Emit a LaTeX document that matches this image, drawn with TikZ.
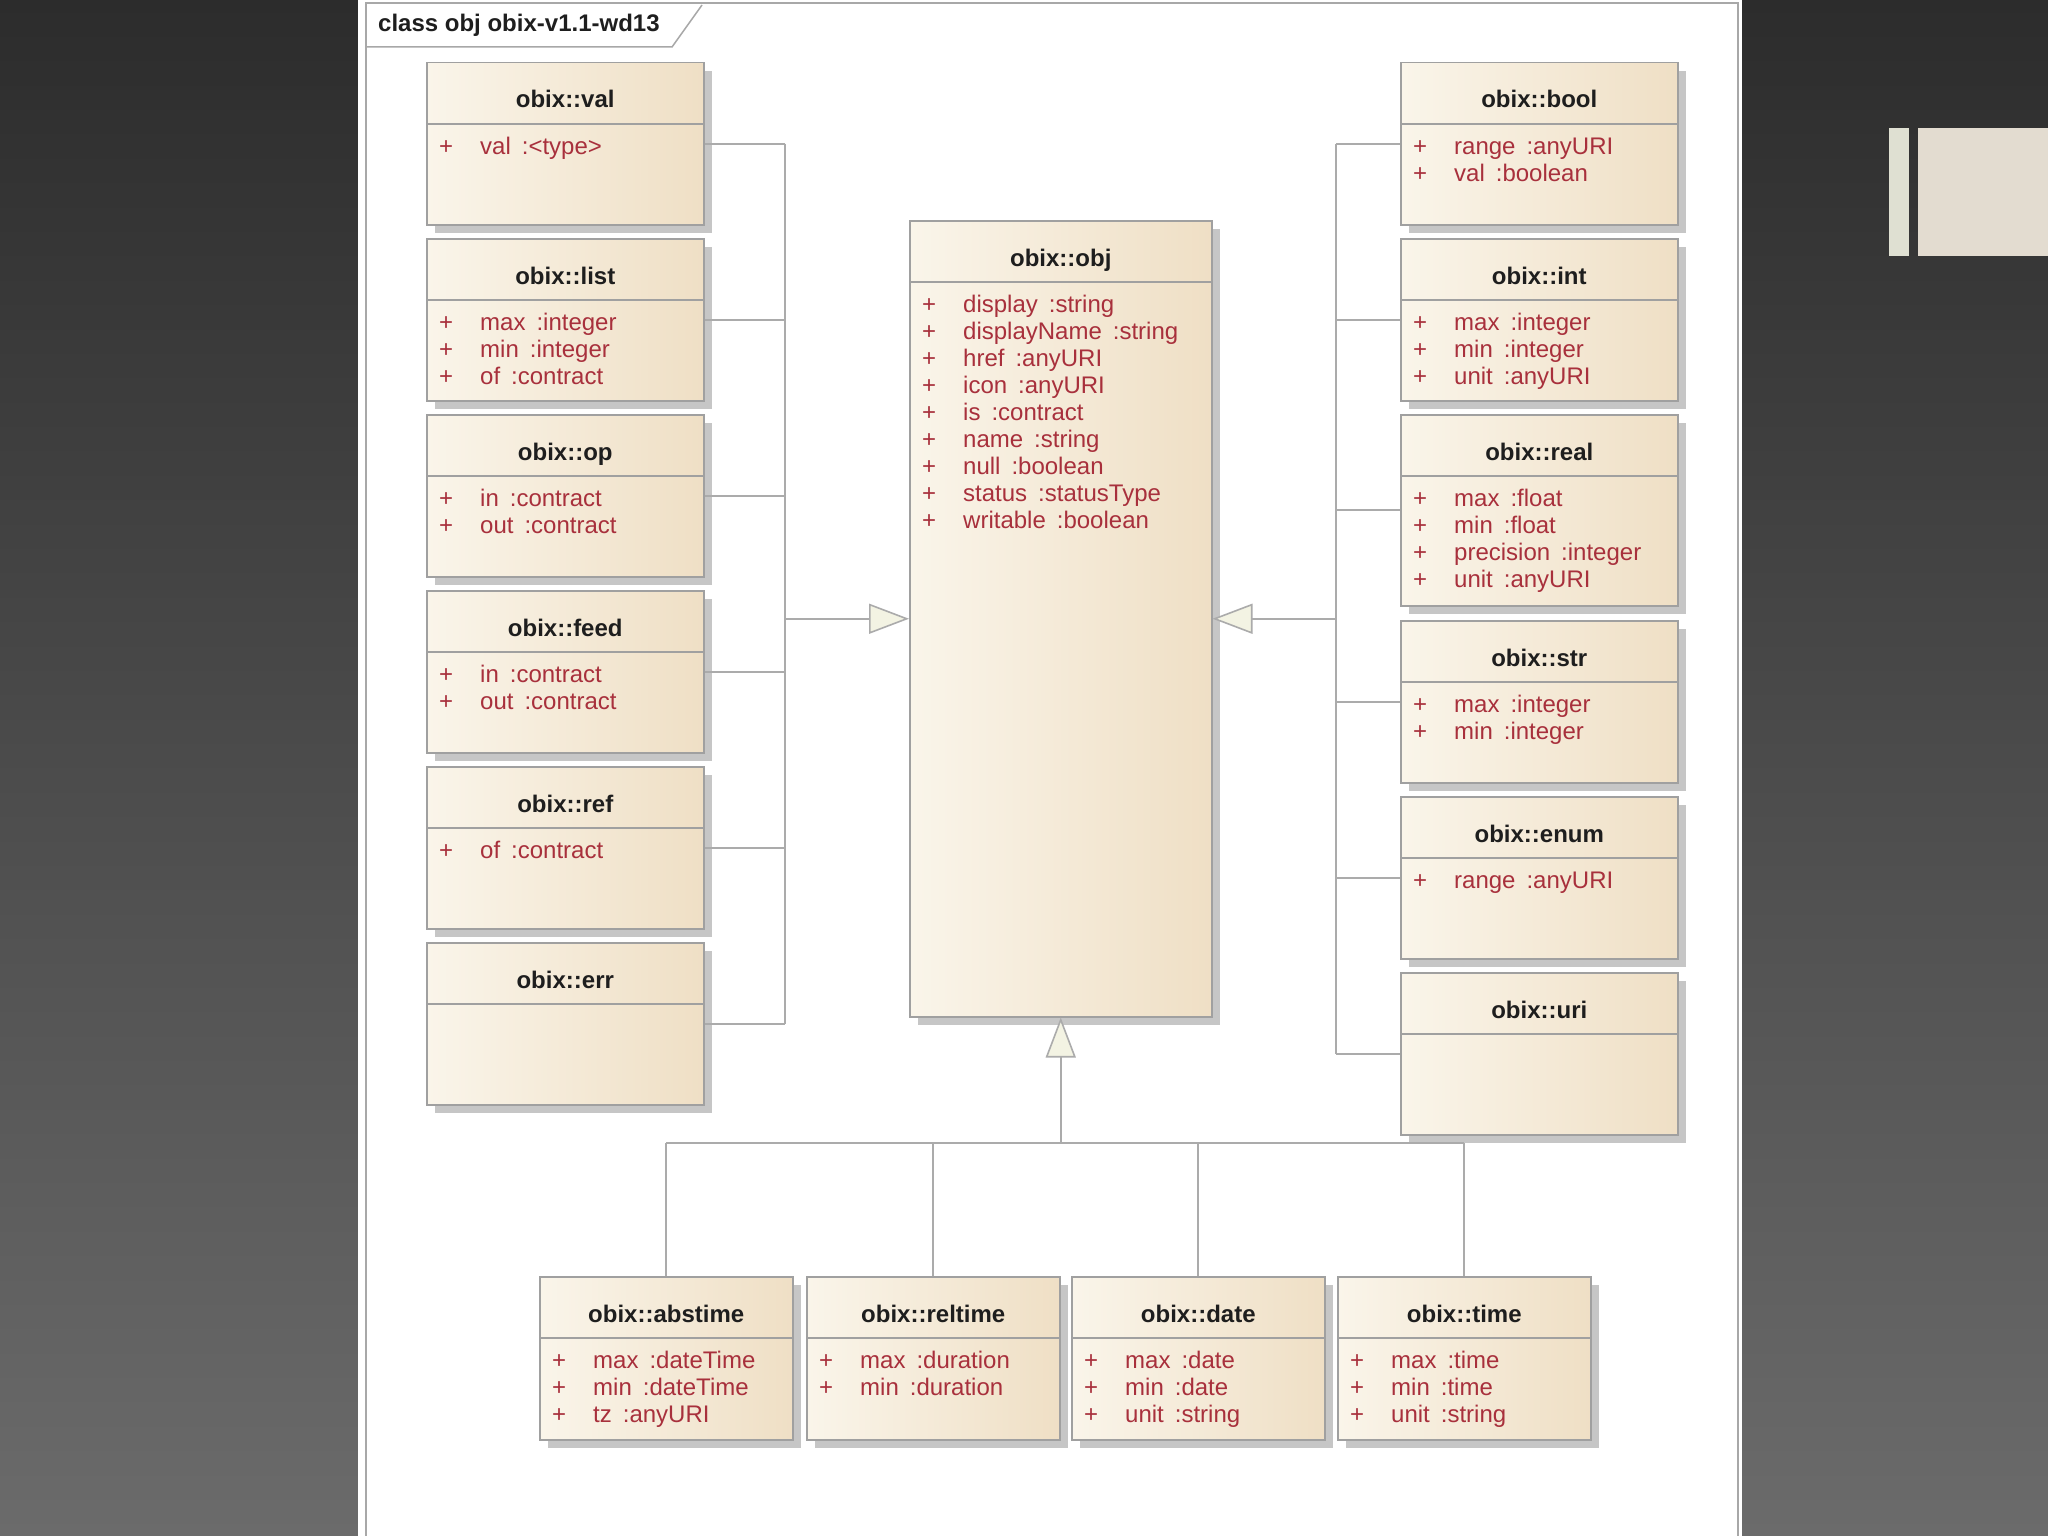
\documentclass[tikz,border=0pt]{standalone}
\usepackage{fontspec}
\setmainfont{Liberation Sans}
\usetikzlibrary{arrows.meta, calc, shadows}
\usepackage{xcolor}
\definecolor{slidetop}{HTML}{2C2C2C}
\definecolor{slidemid}{HTML}{3A3A3A}
\definecolor{slidebot}{HTML}{6B6B6B}
\definecolor{framegray}{HTML}{A8A8A8}
\definecolor{clsleft}{HTML}{FAF5EA}
\definecolor{clsright}{HTML}{EFDFC5}
\definecolor{clsborder}{HTML}{A0A0A0}
\definecolor{clsshadow}{HTML}{C6C6C6}
\definecolor{clstitle}{HTML}{1E1E1E}
\definecolor{attrred}{HTML}{A8303C}
\definecolor{conngray}{HTML}{ABABAB}
\definecolor{trifill}{HTML}{F3F3E3}
\definecolor{tilelight}{HTML}{E3DCD0}
\definecolor{tilepale}{HTML}{DFE0D2}

% one attribute row: + name :type
\newcommand{\memb}[2]{\makebox[41pt][l]{+}#1\hspace{11pt}:#2}
% #1 name, #2 size options, #3 top-left corner, #4 title, #5 attributes
\newcommand{\obixclass}[5]{%
  \node[classbox, #2, anchor=north west] (#1) at (#3) {};
  \node[classtitle, anchor=base] (#1-t) at ($(#1.north)+(0,46)$) {#4};
  \draw[headline] ($(#1.north west)+(0,62)$) -- ($(#1.north east)+(0,62)$);
  \node[classattr, anchor=north west] (#1-a) at ($(#1.north west)+(13,71)$) {\rule{0pt}{21pt}#5};
}

\begin{document}
\begin{tikzpicture}[x=1pt, y=-1pt,
    classbox/.style={rectangle, draw=clsborder, line width=1.5pt, left color=clsleft, right color=clsright, minimum width=277pt, minimum height=162pt, inner sep=0pt, drop shadow={shadow xshift=8pt, shadow yshift=-8pt, fill=clsshadow, opacity=1}},
    classtitle/.style={font=\bfseries\fontsize{24}{27}\selectfont, text=clstitle, inner sep=0pt},
    classattr/.style={font=\fontsize{24}{27}\selectfont, text=attrred, align=left, inner sep=0pt},
    headline/.style={draw=clsborder, line width=1.3pt},
    conn/.style={draw=conngray, line width=1.6pt},
    genarrow/.style={conn, -{Triangle[length=40pt, width=30pt, fill=trifill]}},
  ]
  \useasboundingbox (0,0) rectangle (2048,1536);

  % slide background
  \fill[top color=slidetop, middle color=slidemid, bottom color=slidebot] (0,0) rectangle (2048,1536);
  \fill[tilepale] (1889,128) rectangle (1909,256);
  \fill[tilelight] (1918,128) rectangle (2048,256);
  \fill[white] (358,0) rectangle (1742,1536);

  % diagram frame
  \draw[framegray, line width=1.5pt] (366,1540) -- (366,3) -- (1738,3) -- (1738,1540);
  \draw[framegray, line width=1.5pt] (366,47) -- (672,47) -- (702,5);
  \node[classtitle, anchor=base west] (diagname) at (378,32) {class obj obix-v1.1-wd13};

  % left column
  \obixclass{val}{}{426,62}{obix::val}{\memb{val}{<type>}}
  \obixclass{list}{}{426,238}{obix::list}{\memb{max}{integer}\\\memb{min}{integer}\\\memb{of}{contract}}
  \obixclass{op}{}{426,414}{obix::op}{\memb{in}{contract}\\\memb{out}{contract}}
  \obixclass{feed}{}{426,590}{obix::feed}{\memb{in}{contract}\\\memb{out}{contract}}
  \obixclass{ref}{}{426,766}{obix::ref}{\memb{of}{contract}}
  \obixclass{err}{}{426,942}{obix::err}{}

  % centre
  \obixclass{obj}{minimum width=302pt, minimum height=796pt}{909,220}{obix::obj}{\memb{display}{string}\\\memb{displayName}{string}\\\memb{href}{anyURI}\\\memb{icon}{anyURI}\\\memb{is}{contract}\\\memb{name}{string}\\\memb{null}{boolean}\\\memb{status}{statusType}\\\memb{writable}{boolean}}

  % right column
  \obixclass{bool}{}{1400,62}{obix::bool}{\memb{range}{anyURI}\\\memb{val}{boolean}}
  \obixclass{int}{}{1400,238}{obix::int}{\memb{max}{integer}\\\memb{min}{integer}\\\memb{unit}{anyURI}}
  \obixclass{real}{minimum height=191pt}{1400,414}{obix::real}{\memb{max}{float}\\\memb{min}{float}\\\memb{precision}{integer}\\\memb{unit}{anyURI}}
  \obixclass{str}{}{1400,620}{obix::str}{\memb{max}{integer}\\\memb{min}{integer}}
  \obixclass{enum}{}{1400,796}{obix::enum}{\memb{range}{anyURI}}
  \obixclass{uri}{}{1400,972}{obix::uri}{}

  % bottom row
  \obixclass{abstime}{minimum width=253pt, minimum height=163pt}{539,1276}{obix::abstime}{\memb{max}{dateTime}\\\memb{min}{dateTime}\\\memb{tz}{anyURI}}
  \obixclass{reltime}{minimum width=253pt, minimum height=163pt}{806,1276}{obix::reltime}{\memb{max}{duration}\\\memb{min}{duration}}
  \obixclass{date}{minimum width=253pt, minimum height=163pt}{1071,1276}{obix::date}{\memb{max}{date}\\\memb{min}{date}\\\memb{unit}{string}}
  \obixclass{time}{minimum width=253pt, minimum height=163pt}{1337,1276}{obix::time}{\memb{max}{time}\\\memb{min}{time}\\\memb{unit}{string}}

  % generalisation buses
  \coordinate (lbus) at (785,0);
  \coordinate (rbus) at (1336,0);
  \coordinate (bbus) at (0,1143);

  \foreach \c in {val,list,op,feed,ref,err}
    \draw[conn] (\c.east) -- (\c.east -| lbus);
  \draw[conn] (val.east -| lbus) -- (err.east -| lbus);
  \draw[genarrow] (obj.west -| lbus) -- (obj.west);

  \foreach \c in {bool,int,real,str,enum,uri}
    \draw[conn] (\c.west) -- (\c.west -| rbus);
  \draw[conn] (bool.west -| rbus) -- (uri.west -| rbus);
  \draw[genarrow] (obj.east -| rbus) -- (obj.east);

  \foreach \c in {abstime,reltime,date,time}
    \draw[conn] (\c.north) -- (\c.north |- bbus);
  \draw[conn] (abstime.north |- bbus) -- (time.north |- bbus);
  \draw[genarrow] (obj.south |- bbus) -- (obj.south);
\end{tikzpicture}
\end{document}
